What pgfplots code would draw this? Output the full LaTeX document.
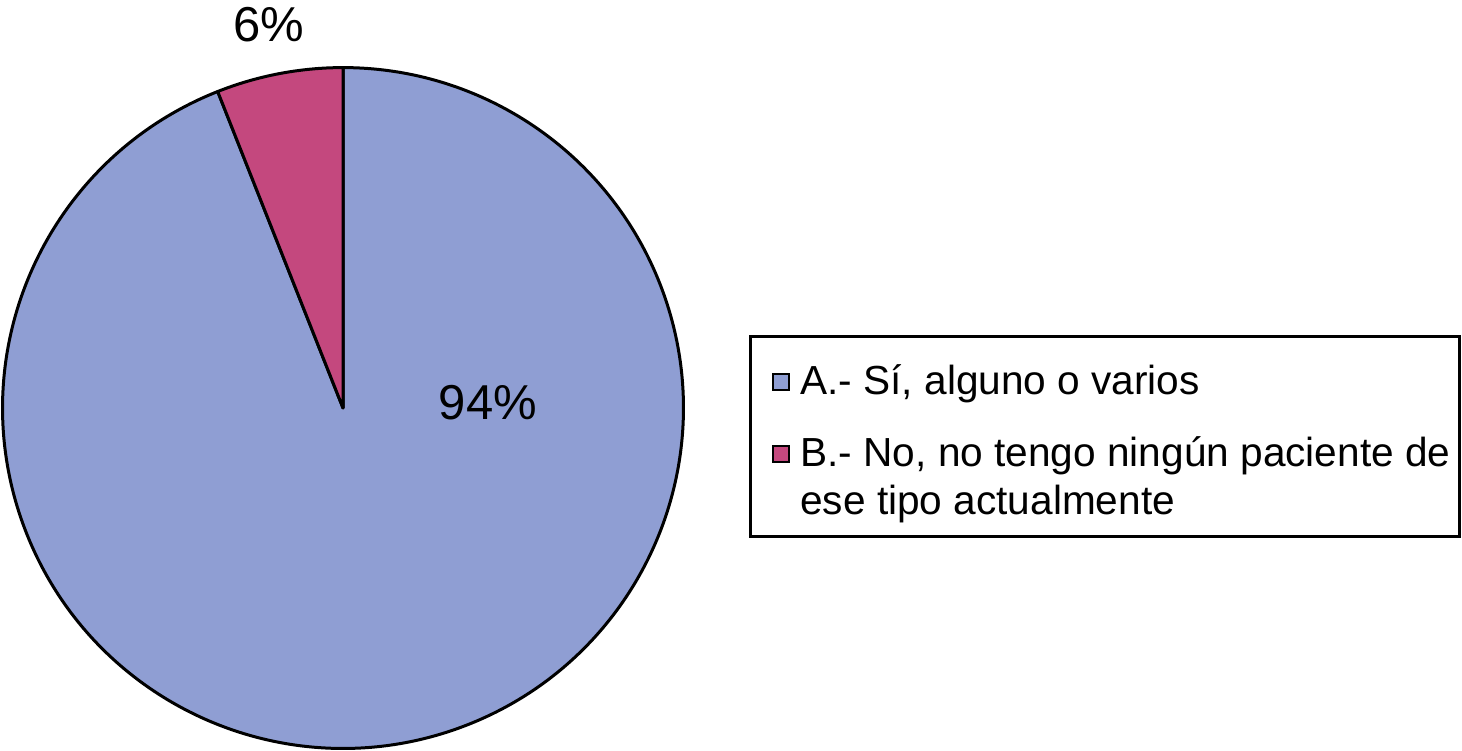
\documentclass[border=0pt]{standalone}
\usepackage{pgfplots}
\pgfplotsset{compat=1.18}
\usepackage{pgfplotstable}
\usepackage{fontspec}
\setmainfont{Liberation Sans}

\definecolor{colA}{RGB}{143,158,211}
\definecolor{colB}{RGB}{196,72,126}

% share of answers, in percent
\pgfplotstableread{
label value
A 94
B 6
}\piedata

\begin{document}
\begin{tikzpicture}
\pgfplotstablegetelem{1}{value}\of\piedata
\pgfmathsetmacro{\angB}{90+3.6*\pgfplotsretval}
\begin{axis}[
    scale only axis,
    width=731pt, height=375pt,
    xmin=0, xmax=1462, ymin=0, ymax=750,
    hide axis, clip=false,
]
    % slices (start at 12 o'clock, B counter-clockwise, A the rest)
    \filldraw[fill=colA, draw=black, line width=1.5pt, line join=round]
        (axis cs:343,342) -- ++(\angB:170.2pt)
        arc[start angle=\angB, end angle=450, radius=170.2pt] -- cycle;
    \filldraw[fill=colB, draw=black, line width=1.5pt, line join=round]
        (axis cs:343,342) -- ++(90:170.2pt)
        arc[start angle=90, end angle=\angB, radius=170.2pt] -- cycle;
    % value labels
    \node[anchor=base, font=\fontsize{24.5}{29}\selectfont, inner sep=0pt]
        at (axis cs:269,708) {6\%};
    \node[anchor=base, font=\fontsize{24.5}{29}\selectfont, inner sep=0pt]
        at (axis cs:488,330) {94\%};
    % legend
    \draw[line width=1.5pt] (axis cs:750,413) rectangle (axis cs:1459,213);
    \filldraw[fill=colA, draw=black, line width=0.9pt]
        (axis cs:773,360) rectangle (axis cs:789,376);
    \filldraw[fill=colB, draw=black, line width=0.9pt]
        (axis cs:773,288) rectangle (axis cs:789,304);
    \node[anchor=base west, font=\fontsize{20.3}{24}\selectfont, inner sep=0pt]
        at (axis cs:800,355) {A.- Sí, alguno o varios};
    \node[anchor=base west, font=\fontsize{20.3}{24}\selectfont, inner sep=0pt]
        at (axis cs:800,283) {B.- No, no tengo ningún paciente de};
    \node[anchor=base west, font=\fontsize{20.3}{24}\selectfont, inner sep=0pt]
        at (axis cs:800,235) {ese tipo actualmente};
\end{axis}
\pgfresetboundingbox
\path (0,0) rectangle (731pt,375pt);
\end{tikzpicture}
\end{document}
